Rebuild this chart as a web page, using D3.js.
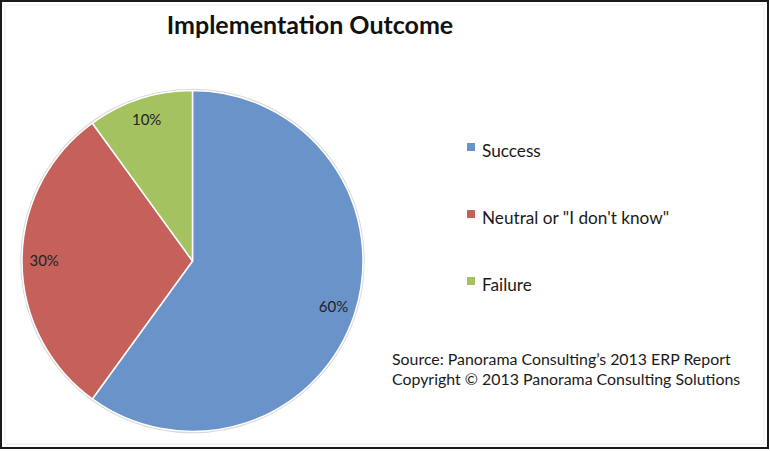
<!DOCTYPE html>
<html>
<head>
<meta charset="utf-8">
<script src="https://cdn.jsdelivr.net/npm/d3@7"></script>
<style>
  html, body { margin: 0; padding: 0; background: #fff; }
  svg { display: block; }
</style>
</head>
<body>
<svg id="chart" width="770" height="451"></svg>
<script>
const categories = ["Success", "Neutral or \"I don't know\"", "Failure"];
const values = [60, 30, 10];
const labels = ["60%", "30%", "10%"];
const colors = ["#6A93CA", "#C6605B", "#A5C261"];
const title = "Implementation Outcome";
const sourceLines = ["Source: Panorama Consulting\u2019s 2013 ERP Report",
                     "Copyright \u00A9 2013 Panorama Consulting Solutions"];

const svg = d3.select("#chart");
const W = 770, H = 451;
const font = "Lato, 'Open Sans', sans-serif";

svg.append("rect").attr("x", 0).attr("y", 0).attr("width", W).attr("height", H).attr("fill", "#fff");

// frame
svg.append("rect").attr("x", 1).attr("y", 1).attr("width", W - 3).attr("height", H - 4)
  .attr("fill", "none").attr("stroke", "#1a1a1a").attr("stroke-width", 2);
svg.append("rect").attr("x", 5).attr("y", 5).attr("width", W - 11).attr("height", H - 12)
  .attr("fill", "none").attr("stroke", "#ececec").attr("stroke-width", 1);

// title
svg.append("text").attr("x", 310).attr("y", 34).attr("text-anchor", "middle")
  .attr("font-family", font).attr("font-weight", "bold").attr("font-size", 25)
  .attr("fill", "#111").text(title);

// pie
const cx = 192.5, cy = 261, R = 170.5;
const g = svg.append("g").attr("transform", `translate(${cx},${cy})`);
const pie = d3.pie().sort(null).value(d => d);
const arcs = pie(values);
const arc = d3.arc().innerRadius(0).outerRadius(R);
const labelArc = d3.arc().innerRadius(R * 0.87).outerRadius(R * 0.87);

g.append("circle").attr("r", R + 1).attr("fill", "none").attr("stroke", "#d8d8d8").attr("stroke-width", 1.5);
g.selectAll("path.slice").data(arcs).enter().append("path")
  .attr("class", "slice")
  .attr("d", arc)
  .attr("fill", (d, i) => colors[i])
  .attr("stroke", "#fff").attr("stroke-width", 1.5).attr("stroke-linejoin", "round");

g.selectAll("text.lbl").data(arcs).enter().append("text")
  .attr("class", "lbl")
  .attr("transform", d => { const c = labelArc.centroid(d); return `translate(${c[0]},${c[1]})`; })
  .attr("text-anchor", "middle").attr("dy", "0.35em")
  .attr("font-family", font).attr("font-size", 15).attr("fill", "#222")
  .text((d, i) => labels[i]);

// legend
const legY = d3.scalePoint().domain(categories).range([151, 285]);
const leg = svg.append("g");
const items = leg.selectAll("g").data(categories).enter().append("g")
  .attr("transform", d => `translate(467,${legY(d)})`);
items.append("rect").attr("x", 0).attr("y", -8).attr("width", 8).attr("height", 8)
  .attr("fill", (d, i) => colors[i]);
items.append("text").attr("x", 15).attr("y", 0).attr("dy", "0.32em")
  .attr("font-family", font).attr("font-size", 17.2).attr("fill", "#1a1a1a")
  .text(d => d);

// source
svg.selectAll("text.src").data(sourceLines).enter().append("text")
  .attr("class", "src").attr("x", 392).attr("y", (d, i) => 365 + i * 20)
  .attr("font-family", font).attr("font-size", 15.9).attr("fill", "#1a1a1a")
  .text(d => d);
</script>
</body>
</html>
